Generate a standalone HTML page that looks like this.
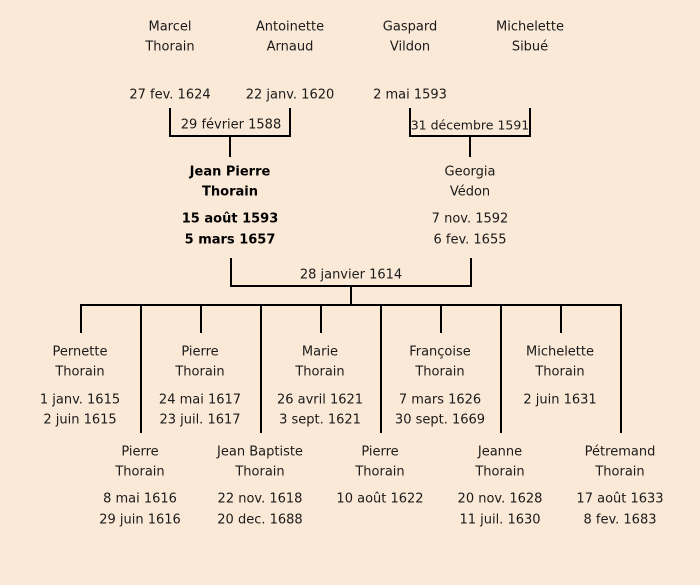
<!DOCTYPE html>
<html><head><meta charset="utf-8"><style>
html,body{margin:0;padding:0;background:#fbe9d7;}
svg{display:block}
text{font-family:"DejaVu Sans","Liberation Sans",sans-serif;font-size:13px;fill:#1a1a1a;text-anchor:middle;dominant-baseline:central}
.b{font-weight:bold;fill:#000}
.s{font-size:12.5px}
</style></head><body>
<svg width="700" height="585" viewBox="0 0 700 585">
<rect width="700" height="585" fill="#fbe9d7"/>
<g stroke="#000" stroke-width="2" fill="none">
<polyline points="170,108 170,136 290,136 290,108"/>
<line x1="230" y1="136" x2="230" y2="157"/>
<polyline points="410,108 410,136 530,136 530,108"/>
<line x1="470" y1="136" x2="470" y2="157"/>
<polyline points="231,258 231,286 471,286 471,258"/>
<line x1="351" y1="286" x2="351" y2="305"/>
<line x1="80" y1="305" x2="622" y2="305"/>
<line x1="81" y1="305" x2="81" y2="333"/>
<line x1="201" y1="305" x2="201" y2="333"/>
<line x1="321" y1="305" x2="321" y2="333"/>
<line x1="441" y1="305" x2="441" y2="333"/>
<line x1="561" y1="305" x2="561" y2="333"/>
<line x1="141" y1="305" x2="141" y2="433"/>
<line x1="261" y1="305" x2="261" y2="433"/>
<line x1="381" y1="305" x2="381" y2="433"/>
<line x1="501" y1="305" x2="501" y2="433"/>
<line x1="621" y1="305" x2="621" y2="433"/>
</g>
<text x="170" y="27">Marcel</text><text x="170" y="47">Thorain</text>
<text x="290" y="27">Antoinette</text><text x="290" y="47">Arnaud</text>
<text x="410" y="27">Gaspard</text><text x="410" y="47">Vildon</text>
<text x="530" y="27">Michelette</text><text x="530" y="47">Sibué</text>
<text x="170" y="95">27 fev. 1624</text>
<text x="290" y="95">22 janv. 1620</text>
<text x="410" y="95">2 mai 1593</text>
<text x="231" y="125">29 février 1588</text>
<text class="s" x="470" y="125">31 décembre 1591</text>
<text class="b" x="230" y="172">Jean Pierre</text><text class="b" x="230" y="192">Thorain</text>
<text class="b" x="230" y="219">15 août 1593</text><text class="b" x="230" y="240">5 mars 1657</text>
<text x="470" y="172">Georgia</text><text x="470" y="192">Védon</text>
<text x="470" y="219">7 nov. 1592</text><text x="470" y="240">6 fev. 1655</text>
<text x="351" y="275">28 janvier 1614</text>

<text x="80" y="352">Pernette</text><text x="80" y="372">Thorain</text><text x="80" y="400">1 janv. 1615</text><text x="80" y="420">2 juin 1615</text>
<text x="200" y="352">Pierre</text><text x="200" y="372">Thorain</text><text x="200" y="400">24 mai 1617</text><text x="200" y="420">23 juil. 1617</text>
<text x="320" y="352">Marie</text><text x="320" y="372">Thorain</text><text x="320" y="400">26 avril 1621</text><text x="320" y="420">3 sept. 1621</text>
<text x="440" y="352">Françoise</text><text x="440" y="372">Thorain</text><text x="440" y="400">7 mars 1626</text><text x="440" y="420">30 sept. 1669</text>
<text x="560" y="352">Michelette</text><text x="560" y="372">Thorain</text><text x="560" y="400">2 juin 1631</text>

<text x="140" y="452">Pierre</text><text x="140" y="472">Thorain</text><text x="140" y="499">8 mai 1616</text><text x="140" y="520">29 juin 1616</text>
<text x="260" y="452">Jean Baptiste</text><text x="260" y="472">Thorain</text><text x="260" y="499">22 nov. 1618</text><text x="260" y="520">20 dec. 1688</text>
<text x="380" y="452">Pierre</text><text x="380" y="472">Thorain</text><text x="380" y="499">10 août 1622</text>
<text x="500" y="452">Jeanne</text><text x="500" y="472">Thorain</text><text x="500" y="499">20 nov. 1628</text><text x="500" y="520">11 juil. 1630</text>
<text x="620" y="452">Pétremand</text><text x="620" y="472">Thorain</text><text x="620" y="499">17 août 1633</text><text x="620" y="520">8 fev. 1683</text>
</svg>
</body></html>
